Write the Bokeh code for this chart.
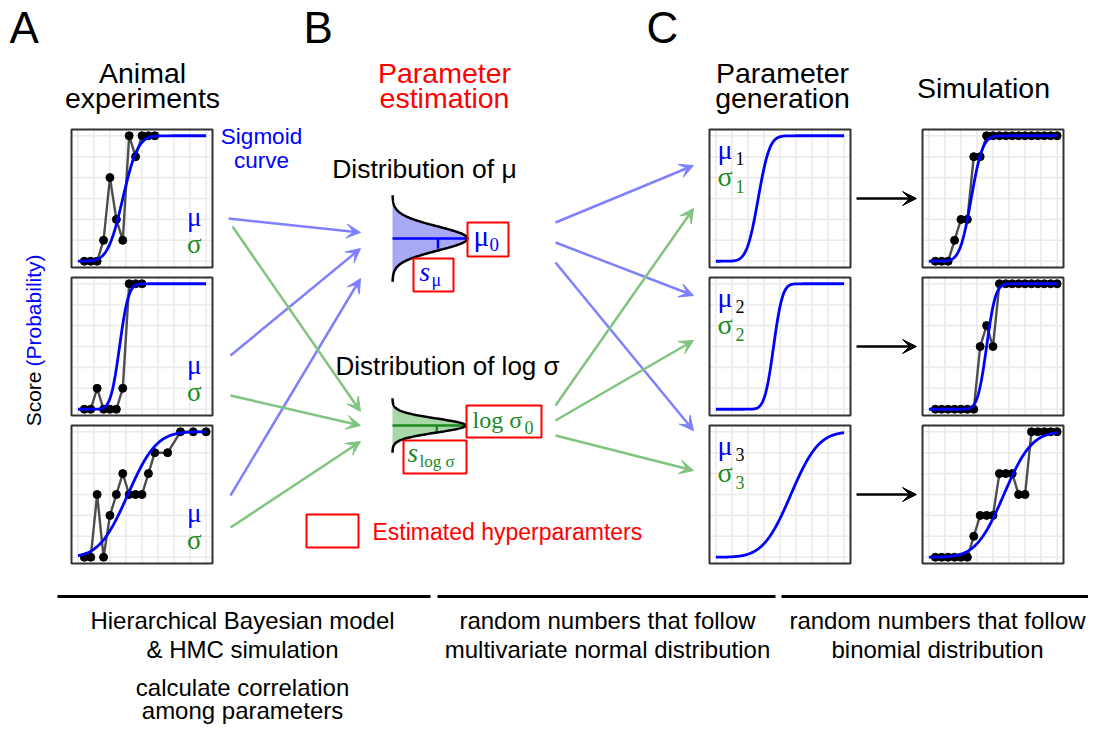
import math
import numpy as np
from bokeh.plotting import figure
from bokeh.models import Range1d, Arrow, VeeHead
from bokeh.core.properties import value
from bokeh.embed import file_html
from bokeh.resources import INLINE

# ------------------------------------------------------------------ data
# A: animal experiments (observation index, score 0-6) + fitted sigmoid
a_x = [
    [1, 2, 3, 4, 5, 6, 7, 8, 9, 10, 11, 12],
    [1, 2, 3, 4, 5, 6, 7, 8, 9, 10],
    [1, 2, 3, 4, 5, 6, 7, 8, 9, 10, 11, 12, 14, 16, 18, 20],
]
a_score = [
    [0, 0, 0, 1, 4, 2, 1, 6, 5, 6, 6, 6],
    [0, 0, 1, 0, 0, 0, 1, 6, 6, 6],
    [0, 0, 3, 0, 2, 3, 4, 3, 3, 3, 4, 5, 5, 6, 6, 6],
]
a_mu = [7.0, 6.5, 7.8]
a_sigma = [1.85, 1.1, 3.5]

# C: generated parameters
gen_mu = [6.6, 9.0, 11.7]
gen_sigma = [1.4, 1.1, 3.4]

# Simulation (binomial random numbers)
sim_x = list(range(1, 21))
sim_score = [
    [0, 0, 0, 1, 2, 2, 5, 5, 6, 6, 6, 6, 6, 6, 6, 6, 6, 6, 6, 6],
    [0, 0, 0, 0, 0, 0, 0, 3, 4, 3, 6, 6, 6, 6, 6, 6, 6, 6, 6, 6],
    [0, 0, 0, 0, 0, 0, 1, 2, 2, 2, 4, 4, 4, 3, 3, 6, 6, 6, 6, 6],
]
SCORE_MAX = 6
X_MAX = 20

# B: hyper-distributions (schematic normal densities)
hyper_names = ["mu", "logsigma"]
hyper_sd_px = [12.0, 7.0]
hyper_extent_sd = [3.6, 3.9]

# ------------------------------------------------------------------ layout
PANEL_W, PANEL_H = 141, 138
COL_A, COL_C, COL_S = 71, 709, 922
ROWS = [129, 277, 425]
X_LIM = (-1.0, 21.0)
Y_LIM = (-0.3, 6.3)

BLUE = "#0000FF"
GREEN = "#1E8B1E"
RED = "#FF0000"
ARROW_BLUE = "#8080FF"
ARROW_GREEN = "#80C480"
SANS = "Liberation Sans"
SERIF = "Liberation Serif"

p = figure(width=1088, height=724, x_range=Range1d(0, 1088), y_range=Range1d(724, 0),
           x_axis_type=None, y_axis_type=None, toolbar_location=None,
           output_backend="svg", min_border=0, outline_line_color=None)
p.grid.visible = False
p.background_fill_color = "white"


def to_px(left, top, x, y):
    x = np.asarray(x, dtype=float)
    y = np.asarray(y, dtype=float)
    X = left + (x - X_LIM[0]) / (X_LIM[1] - X_LIM[0]) * PANEL_W
    Y = top + PANEL_H - (y - Y_LIM[0]) / (Y_LIM[1] - Y_LIM[0]) * PANEL_H
    return X, Y


def sigmoid(x, mu, sigma):
    return np.array([0.5 * (1 + math.erf((v - mu) / (sigma * math.sqrt(2)))) for v in x])


def panel(left, top):
    gx = np.arange(0, X_MAX + 0.01, 2.5)
    gy = np.arange(0, SCORE_MAX + 0.01, 1)
    xs, ys = [], []
    for g in gx:
        X, _ = to_px(left, top, [g], [0])
        xs.append([X[0], X[0]]); ys.append([top, top + PANEL_H])
    for g in gy:
        _, Y = to_px(left, top, [0], [g])
        xs.append([left, left + PANEL_W]); ys.append([Y[0], Y[0]])
    p.multi_line(xs, ys, line_color="#EBEBEB", line_width=1.6)
    p.quad(left=[left], right=[left + PANEL_W], top=[top], bottom=[top + PANEL_H],
           fill_color=None, line_color="#333333", line_width=2)


def curve(left, top, mu, sigma):
    xc = np.linspace(0, X_MAX, 240)
    X, Y = to_px(left, top, xc, SCORE_MAX * sigmoid(xc, mu, sigma))
    p.line(X, Y, line_color=BLUE, line_width=2.8)


def observations(left, top, xs, ys):
    X, Y = to_px(left, top, xs, ys)
    p.line(X, Y, line_color="#4D4D4D", line_width=2.4)
    p.scatter(X, Y, size=8, fill_color="black", line_color="black")


def txt(x, y, s, size, color="black", font=SANS, align="center", baseline="alphabetic",
        angle=0.0, style="normal"):
    # y is the alphabetic baseline unless baseline="middle"; render with middle baseline
    if baseline == "alphabetic":
        y = y - 0.35 * size
    p.text(x=[x], y=[y], text=[s], text_font=value(font), text_font_size=f"{size}px",
           text_color=color, text_align=align, text_baseline="middle", angle=angle,
           text_font_style=style)


# ---- A panels
for i in range(3):
    top = ROWS[i]
    panel(COL_A, top)
    observations(COL_A, top, a_x[i], a_score[i])
    curve(COL_A, top, a_mu[i], a_sigma[i])
    txt(COL_A + PANEL_W - 11, top + 97, "μ", 27, BLUE, SERIF, align="right")
    txt(COL_A + PANEL_W - 11, top + 124, "σ", 27, GREEN, SERIF, align="right")

# ---- C panels
for i in range(3):
    top = ROWS[i]
    panel(COL_C, top)
    curve(COL_C, top, gen_mu[i], gen_sigma[i])
    txt(COL_C + 8, top + 30, "μ", 28, BLUE, SERIF, align="left")
    txt(COL_C + 26, top + 35, str(i + 1), 18, "black", SERIF, align="left")
    txt(COL_C + 8, top + 57, "σ", 28, GREEN, SERIF, align="left")
    txt(COL_C + 26, top + 63, str(i + 1), 18, GREEN, SERIF, align="left")

# ---- Simulation panels
for i in range(3):
    top = ROWS[i]
    panel(COL_S, top)
    observations(COL_S, top, sim_x, sim_score[i])
    curve(COL_S, top, gen_mu[i], gen_sigma[i])

# ---- B: hyper distributions
dist_layout = [  # baseline x, centre y, peak width, fill, line colour
    (392, 238, 75, "#A8A8F4", BLUE),
    (392, 425, 73, "#A8D8A8", GREEN),
]
for (x0, yc, peak, fill, lc), sd, ext in zip(dist_layout, hyper_sd_px, hyper_extent_sd):
    z = np.linspace(-ext, ext, 200)
    dens = np.exp(-0.5 * z ** 2)
    yy = yc + z * sd
    xx = x0 + peak * dens
    p.harea(x1=np.full_like(yy, x0), x2=xx, y=yy, fill_color=fill)
    p.line(x=[x0, x0 + peak], y=[yc, yc], line_color=lc, line_width=2.5)
    xt = x0 + peak * math.exp(-0.5)
    p.line(x=[xt, xt], y=[yc, yc + sd * 0.85], line_color=lc, line_width=2.5)
    p.line(xx, yy, line_color="black", line_width=2.5)

# red boxes for estimated hyper-parameters
boxes = [(467, 508, 222, 256), (413, 453, 258, 291), (466, 541, 405, 437),
         (403, 466, 440, 473), (306, 358, 514, 547)]
p.quad(left=[b[0] for b in boxes], right=[b[1] for b in boxes],
       top=[b[2] for b in boxes], bottom=[b[3] for b in boxes],
       fill_color=None, line_color=RED, line_width=2)

txt(473, 246, "μ", 29, BLUE, SERIF, align="left")
txt(489, 251, "0", 19, BLUE, SERIF, align="left")
txt(419, 281, "s", 27, BLUE, SERIF, align="left", style="italic")
txt(431, 286, "μ", 18, BLUE, SERIF, align="left")
txt(472, 428, "log σ", 24, GREEN, SERIF, align="left")
txt(524, 433, "0", 18, GREEN, SERIF, align="left")
txt(407, 462, "s", 27, GREEN, SERIF, align="left", style="italic")
txt(419, 467, "log σ", 17, GREEN, SERIF, align="left")

txt(372, 531, "Estimated hyperparamters", 23, RED, align="left", baseline="middle")

txt(424, 178, "Distribution of μ", 26.5)
txt(447, 375, "Distribution of log σ", 26)

# ---- titles
txt(9, 42, "A", 44, align="left")
txt(303, 42, "B", 44, align="left")
txt(646, 42, "C", 44, align="left")
txt(142, 82, "Animal", 28.5)
txt(142, 107, "experiments", 28.5)
txt(444, 82, "Parameter", 28.5, RED)
txt(444, 107, "estimation", 28.5, RED)
txt(782, 82, "Parameter", 28.5)
txt(782, 107, "generation", 28.5)
txt(983, 97, "Simulation", 28.5)
txt(261, 144, "Sigmoid", 22.5, BLUE)
txt(261, 168, "curve", 22.5, BLUE)

txt(33, 371, "Score", 21, angle=math.pi / 2, align="right", baseline="middle")
txt(33, 366, "(Probability)", 21, BLUE, angle=math.pi / 2, align="left", baseline="middle")

# ---- arrows
arrows = [
    (228, 218, 360, 232, ARROW_BLUE), (230, 355, 360, 248, ARROW_BLUE),
    (230, 495, 360, 278, ARROW_BLUE),
    (232, 226, 360, 411, ARROW_GREEN), (230, 395, 360, 425, ARROW_GREEN),
    (230, 527, 360, 441, ARROW_GREEN),
    (555, 222, 693, 165, ARROW_BLUE), (555, 242, 693, 295, ARROW_BLUE),
    (555, 262, 693, 430, ARROW_BLUE),
    (555, 405, 693, 208, ARROW_GREEN), (555, 420, 693, 340, ARROW_GREEN),
    (555, 435, 693, 470, ARROW_GREEN),
]
for i in range(3):
    yc = ROWS[i] + PANEL_H / 2
    arrows.append((COL_C + PANEL_W + 6, yc, COL_S - 6, yc, "black"))
for x0, y0, x1, y1, c in arrows:
    p.add_layout(Arrow(x_start=x0, y_start=y0, x_end=x1, y_end=y1, line_color=c,
                       line_width=2.5,
                       end=VeeHead(size=14, fill_color=c, line_color=c, line_width=1)))

# ---- bottom captions
p.segment(x0=[57, 437, 781], y0=[596, 596, 596], x1=[430, 775, 1088], y1=[596, 596, 596],
          line_color="black", line_width=3)
CAP = 24
txt(242, 628, "Hierarchical Bayesian model", CAP)
txt(242, 657, "& HMC simulation", CAP)
txt(242, 695, "calculate correlation", CAP)
txt(242, 718, "among parameters", CAP)
txt(607, 628, "random numbers that follow", CAP)
txt(607, 657, "multivariate normal distribution", CAP)
txt(937, 628, "random numbers that follow", CAP)
txt(937, 657, "binomial distribution", CAP)

open("out.html", "w").write(file_html(p, INLINE))
